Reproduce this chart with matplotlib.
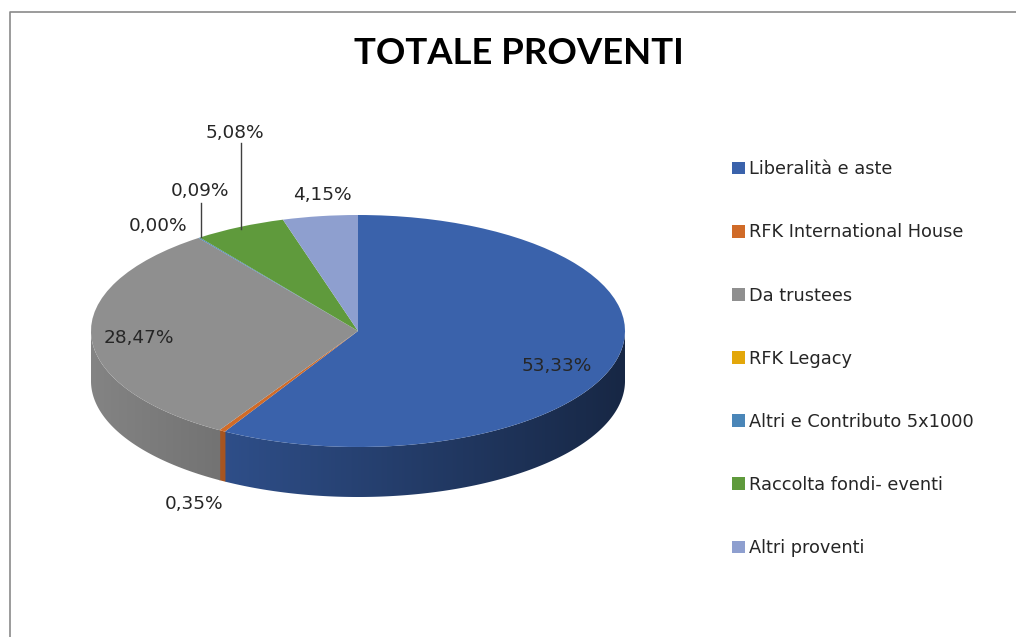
import matplotlib
matplotlib.use("Agg")
import matplotlib.pyplot as plt
import numpy as np
from matplotlib.lines import Line2D
from matplotlib.patches import Polygon

categorie = ["Liberalità e aste", "RFK International House", "Da trustees", "RFK Legacy",
             "Altri e Contributo 5x1000", "Raccolta fondi- eventi", "Altri proventi"]
valori = [53.33, 0.35, 28.47, 0.00, 0.09, 5.08, 4.15]
colori = ["#3a62ab", "#d06b28", "#8f8f8f", "#e3a70a", "#4a86b8", "#5f9a3c", "#8e9fcf"]

W, H = 1016, 637
CX, CY, RX, RY, DEPTH = 358, 331, 267, 116, 50
GRIGIO = "#262626"


def px(x, y):
    return x / W, 1 - y / H


fig = plt.figure(figsize=(W / 100, H / 100), dpi=100)

# cornice del grafico, solo sopra e a sinistra
fig.add_artist(Line2D([10 / W, 10 / W, 1], [0, 1 - 12 / H, 1 - 12 / H], color="#8a8a8a", lw=1.2))

fig.text(*px(519, 53), "TOTALE PROVENTI", family="Lato", weight="bold", fontsize=26.3,
         color="black", ha="center", va="center")

# assi che coprono l'ellisse superiore piu' lo spessore della torta
ax = fig.add_axes([(CX - RX) / W, 1 - (CY + RY + DEPTH) / H, 2 * RX / W, (2 * RY + DEPTH) / H])
wedges, _ = ax.pie(valori, colors=colori, startangle=90, counterclock=False, radius=1,
                   wedgeprops={"linewidth": 0, "zorder": 3})
d = DEPTH / RY

# luce da sinistra: il fianco si scurisce andando verso destra
xs = np.linspace(-1, 1, 534)
ombra = np.interp(xs, [-1, -0.5, 1], [0.92, 0.80, 0.40])

# fianco della torta: gradiente ritagliato sulla sagoma di ogni fetta
for w, c in zip(wedges, colori):
    angoli = np.radians(np.arange(w.theta1, w.theta2 + 0.25, 0.25))
    angoli = angoli[np.sin(angoli) <= 0]
    if len(angoli) < 2:
        continue
    x, y = np.cos(angoli), np.sin(angoli)
    sagoma = np.vstack([np.c_[x, y], np.c_[x[::-1], y[::-1] - d]])
    grad = (np.array(matplotlib.colors.to_rgb(c))[None, None, :] * ombra[None, :, None])
    im = ax.imshow(grad, extent=(-1, 1, -1 - d, 0), aspect="auto", zorder=2, interpolation="bilinear")
    im.set_clip_path(Polygon(sagoma, transform=ax.transData))

ax.set_aspect("auto")
ax.set_xlim(-1, 1)
ax.set_ylim(-1 - d, 1)

# etichette percentuali
pos_etichette = [(557, 366), (194, 504), (139, 338), (158, 226), (200, 191), (235, 133), (322, 195)]
for v, (x, y) in zip(valori, pos_etichette):
    fig.text(*px(x, y), f"{v:.2f}".replace(".", ",") + "%", fontsize=13.3, color=GRIGIO,
             ha="center", va="center", family="DejaVu Sans")

# linee guida per 0,09% e 5,08%
for x, y0, y1 in [(201, 237, 203), (241, 229, 143)]:
    fig.add_artist(Line2D([x / W, x / W], [1 - y0 / H, 1 - y1 / H], color="#404040", lw=1.0))

leg = fig.legend(wedges, categorie, loc="upper left", bbox_to_anchor=px(718, 146), frameon=False,
                 fontsize=12.8, labelcolor=GRIGIO, handlelength=0.72, handleheight=0.72,
                 handletextpad=0.25, labelspacing=2.54, borderpad=0.3)

fig.savefig("out.png", dpi=100, facecolor="white")
